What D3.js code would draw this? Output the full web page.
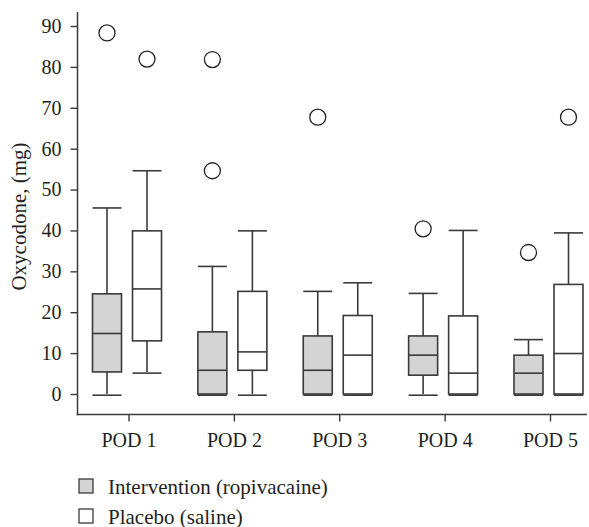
<!DOCTYPE html>
<html>
<head>
<meta charset="utf-8">
<script src="https://cdn.jsdelivr.net/npm/d3@7/dist/d3.min.js"></script>
<style>
  html, body { margin: 0; padding: 0; background: #fff; }
  svg { display: block; }
  text { font-family: "Liberation Serif", "Times New Roman", serif; fill: #231f20; }
</style>
</head>
<body>
<svg id="chart" width="589" height="527"></svg>
<script>
// ---- data ----
const categories = ["POD 1", "POD 2", "POD 3", "POD 4", "POD 5"];
const yTicks = [0, 10, 20, 30, 40, 50, 60, 70, 80, 90];
const seriesNames = ["Intervention (ropivacaine)", "Placebo (saline)"];

const interventionLow    = [0, 0, 0, 0, 0];
const interventionQ1     = [5.4, 0, 0, 4.6, 0];
const interventionMedian = [14.8, 5.8, 5.8, 9.5, 5.1];
const interventionQ3     = [24.5, 15.2, 14.2, 14.2, 9.5];
const interventionHigh   = [45.5, 31.2, 25.1, 24.6, 13.3];
const interventionOutliers = [[88.3], [81.8, 54.6], [67.7], [40.4], [34.6]];

const placeboLow    = [5.4, 0, 0, 0, 0];
const placeboQ1     = [13.0, 5.8, 0, 0, 0];
const placeboMedian = [25.7, 10.3, 9.5, 5.1, 9.9];
const placeboQ3     = [39.9, 25.1, 19.2, 19.1, 26.8];
const placeboHigh   = [54.6, 39.9, 27.2, 40.0, 39.4];
const placeboOutliers = [[81.9], [], [], [], [67.7]];

// ---- build ----
function build(low, q1, med, q3, high, outs, series) {
  return categories.map((c, i) => ({cat: c, series, low: low[i], q1: q1[i], med: med[i], q3: q3[i], high: high[i], outliers: outs[i]}));
}
const boxes = build(interventionLow, interventionQ1, interventionMedian, interventionQ3, interventionHigh, interventionOutliers, 0)
  .concat(build(placeboLow, placeboQ1, placeboMedian, placeboQ3, placeboHigh, placeboOutliers, 1));

const svg = d3.select("#chart");
const stroke = "#3a3a3a";
const fills = ["#d4d4d4", "#ffffff"];

const x = d3.scalePoint().domain(categories).range([128.5, 550]);
const y = d3.scaleLinear().domain([0, 90]).range([394, 26]);
const offsets = [-21.5, 18.5];
const boxW = 29;

// axes
const yAxis = d3.axisLeft(y).tickValues(yTicks).tickSize(7).tickPadding(9).tickSizeOuter(0);
const gy = svg.append("g").attr("transform", "translate(77.5,0)").call(yAxis);
gy.select(".domain").remove();
gy.selectAll(".tick line").attr("stroke", stroke).attr("stroke-width", 1.4);
gy.selectAll(".tick text").style("font-size", "20px").attr("fill", "#231f20");

const xAxis = d3.axisBottom(x).tickSize(7).tickPadding(11).tickSizeOuter(0);
const gx = svg.append("g").attr("transform", "translate(0,414.5)").call(xAxis);
gx.select(".domain").remove();
gx.selectAll(".tick line").attr("stroke", stroke).attr("stroke-width", 1.4);
gx.selectAll(".tick text").style("font-size", "20px").attr("fill", "#231f20");

svg.append("line").attr("x1", 77.5).attr("x2", 77.5).attr("y1", 12).attr("y2", 415.2)
  .attr("stroke", stroke).attr("stroke-width", 1.5);
svg.append("line").attr("x1", 76.8).attr("x2", 587).attr("y1", 414.5).attr("y2", 414.5)
  .attr("stroke", stroke).attr("stroke-width", 1.5);

// y title
svg.append("text")
  .attr("transform", "translate(26,216.5) rotate(-90)")
  .attr("text-anchor", "middle")
  .style("font-size", "21px")
  .text("Oxycodone, (mg)");

// boxes
const g = svg.append("g");
const bg = g.selectAll("g.box").data(boxes).join("g").attr("class", "box")
  .attr("transform", d => `translate(${x(d.cat) + offsets[d.series]},0)`);

// whiskers
bg.append("line").attr("x1", 0).attr("x2", 0).attr("y1", d => y(d.high)).attr("y2", d => y(d.q3))
  .attr("stroke", stroke).attr("stroke-width", 1.6);
bg.append("line").attr("x1", 0).attr("x2", 0).attr("y1", d => y(d.q1)).attr("y2", d => y(d.low))
  .attr("stroke", stroke).attr("stroke-width", 1.6);
// caps
bg.append("line").attr("x1", -boxW / 2).attr("x2", boxW / 2).attr("y1", d => y(d.high)).attr("y2", d => y(d.high))
  .attr("stroke", stroke).attr("stroke-width", 1.6);
// box
bg.append("rect").attr("x", -boxW / 2).attr("width", boxW)
  .attr("y", d => y(d.q3)).attr("height", d => y(d.q1) - y(d.q3))
  .attr("fill", d => fills[d.series]).attr("stroke", stroke).attr("stroke-width", 1.6);
bg.append("line").attr("x1", -boxW / 2).attr("x2", boxW / 2).attr("y1", d => y(d.low) + 1.2).attr("y2", d => y(d.low) + 1.2)
  .attr("stroke", stroke).attr("stroke-width", 1.6);
// median
bg.append("line").attr("x1", -boxW / 2).attr("x2", boxW / 2).attr("y1", d => y(d.med)).attr("y2", d => y(d.med))
  .attr("stroke", stroke).attr("stroke-width", 1.6);
// outliers
bg.selectAll("circle").data(d => d.outliers).join("circle")
  .attr("cx", 0).attr("cy", v => y(v)).attr("r", 8)
  .attr("fill", "none").attr("stroke", "#222").attr("stroke-width", 1.3);

// legend
const lg = svg.append("g").selectAll("g").data(seriesNames).join("g")
  .attr("transform", (d, i) => `translate(79,${479 + i * 30})`);
lg.append("rect").attr("x", 0).attr("y", 0).attr("width", 14).attr("height", 14)
  .attr("fill", (d, i) => fills[i]).attr("stroke", stroke).attr("stroke-width", 1.3);
lg.append("text").attr("x", 29).attr("y", 14.5).style("font-size", "21px").text(d => d);
</script>
</body>
</html>
